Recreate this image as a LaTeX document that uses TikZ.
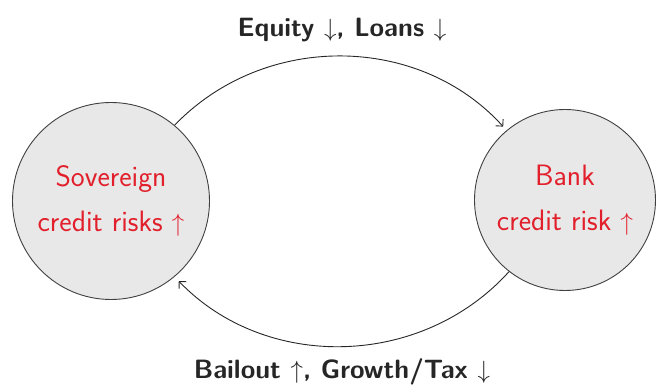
\documentclass[tikz,border=0pt]{standalone}
\usepackage{fontspec}
\usetikzlibrary{arrows.meta}
\begin{document}
\begin{tikzpicture}[x=1pt,y=1pt,
  risk/.style={circle,draw=black!75,line width=0.9pt,fill=black!9,
    text=riskred,align=center,font=\sffamily\fontsize{29.5}{45}\selectfont,inner sep=0pt},
  flow/.style={-{Straight Barb[length=5pt,width=10pt]},line width=0.9pt,black!85},
  lab/.style={font=\sffamily\bfseries\fontsize{26.5}{30}\selectfont,text=black!85,anchor=base}]
\definecolor{riskred}{RGB}{226,32,44}
\useasboundingbox (0,0) rectangle (659,385);
\node[risk,minimum size=197pt] (L) at (111,184) {Sovereign\\credit risks $\uparrow$};
\node[risk,minimum size=181pt] (R) at (565,185) {Bank\\credit risk $\uparrow$};
\draw[flow,shorten >=5pt] (L.50) to[bend left=47] (R.130);
\draw[flow,shorten >=6pt] (R.232) to[bend left=47] (L.310);
\node[lab] (top) at (342,348) {Equity $\downarrow$, Loans $\downarrow$};
\node[lab] (bot) at (342,6.5) {Bailout $\uparrow$, Growth/Tax $\downarrow$};
\end{tikzpicture}
\end{document}
